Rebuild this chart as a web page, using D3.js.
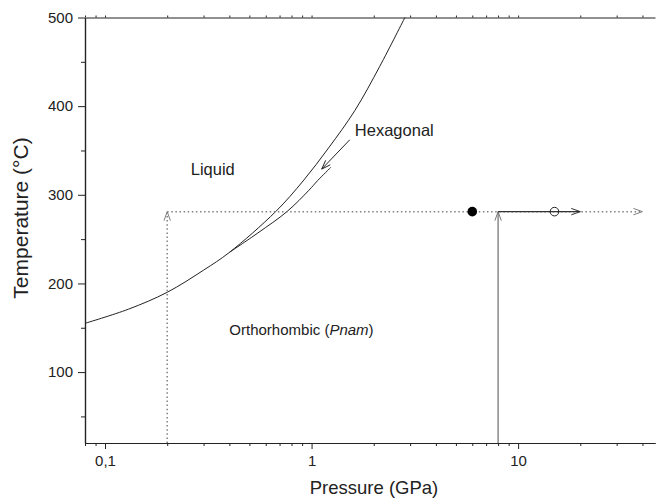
<!DOCTYPE html>
<html><head><meta charset="utf-8">
<script src="https://cdn.jsdelivr.net/npm/d3@7"></script>
<style>body{margin:0;background:#fff}svg{display:block;font-family:"Liberation Sans",Arial,sans-serif}</style>
</head><body><svg id="c" width="656" height="501"></svg>
<script>
// ---- data ----
const xDomain = [0.08, 46];
const yDomain = [20, 500];
const xMajorTicks = [0.1, 1, 10];
const xTickLabels = ["0,1", "1", "10"];
const xMinorTicks = [0.08,0.09,0.2,0.3,0.4,0.5,0.6,0.7,0.8,0.9,2,3,4,5,6,7,8,9,20,30,40];
const yMajorTicks = [100, 200, 300, 400, 500];
const yMinorTicks = [50, 150, 250, 350, 450];
// melting curve (Liquid / Orthorhombic)
const meltP = [0.08, 0.13, 0.2, 0.3, 0.4, 0.67, 0.91, 1.21, 1.62, 2.14, 2.83];
const meltT = [155, 171, 190, 215, 235, 281, 315.6, 353, 395, 445, 500];
// hexagonal branch
const hexP = [0.40, 0.55, 0.76, 0.97, 1.07, 1.24];
const hexT = [235, 257, 281, 305, 316, 331];
// arrow toward hexagonal branch
const hexArrowP = [1.53, 1.12];
const hexArrowT = [362, 329];
// experimental path
const pathT = 281;
const dottedStartP = 0.2, dottedEndP = 40;
const solidStartP = 8, solidEndP = 20;
const filledP = 6, openP = 15;

const labels = [
  {text: "Liquid", P: 0.26, T: 322},
  {text: "Hexagonal", P: 1.62, T: 366},
];

// ---- layout ----
const W = 656, H = 501;
const m = {l: 85, r: 1, t: 17.5, b: 58};
const svg = d3.select("#c");
const x = d3.scaleLog().domain(xDomain).range([m.l, W - m.r]);
const y = d3.scaleLinear().domain(yDomain).range([H - m.b, m.t]);
const ink = "#222";

// axes
const gx = svg.append("g").attr("transform", `translate(0,${H - m.b})`);
gx.call(d3.axisBottom(x).tickValues(xMajorTicks).tickFormat((d,i)=>xTickLabels[i]).tickSize(6).tickSizeOuter(0).tickPadding(6));
gx.append("g").call(d3.axisBottom(x).tickValues(xMinorTicks).tickFormat("").tickSize(3).tickSizeOuter(0));
const gxt = svg.append("g").attr("transform", `translate(0,${m.t})`);
gxt.call(d3.axisTop(x).tickValues(xMajorTicks.concat(xMinorTicks)).tickFormat("").tickSize(2).tickSizeOuter(0));
const gy = svg.append("g").attr("transform", `translate(${m.l},0)`);
gy.call(d3.axisLeft(y).tickValues(yMajorTicks).tickSize(7).tickSizeOuter(0).tickPadding(5));
gy.append("g").call(d3.axisLeft(y).tickValues(yMinorTicks).tickFormat("").tickSize(4).tickSizeOuter(0));
svg.selectAll(".domain").attr("stroke", ink).attr("stroke-width", 1.2);
svg.selectAll(".tick line").attr("stroke", ink).attr("stroke-width", 1);
svg.selectAll(".tick text").attr("fill", ink).attr("font-size", 15).attr("font-family", "Liberation Sans, Arial, sans-serif");

svg.append("text").attr("x", (m.l + W - m.r)/2 + 4).attr("y", 494).attr("text-anchor", "middle")
  .attr("font-size", 18.5).attr("fill", ink).text("Pressure (GPa)");
svg.append("text").attr("transform", `translate(28,218) rotate(-90)`).attr("text-anchor", "middle")
  .attr("font-size", 21).attr("fill", ink).text("Temperature (°C)");

const plot = svg.append("g");
const line = d3.line().x(d => x(d[0])).y(d => y(d[1])).curve(d3.curveCatmullRom.alpha(0.5));
plot.append("path").attr("d", line(meltP.map((p,i)=>[p, meltT[i]])))
  .attr("fill", "none").attr("stroke", ink).attr("stroke-width", 1);
plot.append("path").attr("d", line(hexP.map((p,i)=>[p, hexT[i]])))
  .attr("fill", "none").attr("stroke", ink).attr("stroke-width", 1);

function arrowHead(g, x0, y0, x1, y1, color, len=9, half=3.2, sw=1) {
  const a = Math.atan2(y1 - y0, x1 - x0);
  const p1 = [x1 - len*Math.cos(a) + half*Math.sin(a), y1 - len*Math.sin(a) - half*Math.cos(a)];
  const p2 = [x1 - len*Math.cos(a) - half*Math.sin(a), y1 - len*Math.sin(a) + half*Math.cos(a)];
  g.append("path").attr("d", `M${p1}L${x1},${y1}L${p2}`).attr("fill", "none")
    .attr("stroke", color).attr("stroke-width", sw);
}
function arrow(g, P0, T0, P1, T1, color, dash, sw=1) {
  const [x0,y0,x1,y1] = [x(P0), y(T0), x(P1), y(T1)];
  g.append("line").attr("x1", x0).attr("y1", y0).attr("x2", x1).attr("y2", y1)
    .attr("stroke", color).attr("stroke-width", sw).attr("stroke-dasharray", dash || null);
  arrowHead(g, x0, y0, x1, y1, color);
}
// hexagonal arrow
arrow(plot, hexArrowP[0], hexArrowT[0], hexArrowP[1], hexArrowT[1], ink, null, 1);

// dotted path: up at 0.2 GPa, then horizontal to 40 GPa
const grey = "#808080";
arrow(plot, dottedStartP, yDomain[0], dottedStartP, pathT, grey, "1.5,2.6", 1.5);
arrow(plot, dottedStartP, pathT, dottedEndP, pathT, grey, "1.5,2.6", 1.5);
// solid path at 8 GPa
arrow(plot, solidStartP, yDomain[0], solidStartP, pathT, "#777", null, 1.3);
arrow(plot, solidStartP, pathT, solidEndP, pathT, "#333", null, 1.3);

// points
plot.append("circle").attr("cx", x(filledP)).attr("cy", y(pathT)).attr("r", 4.8).attr("fill", "#000");
plot.append("circle").attr("cx", x(openP)).attr("cy", y(pathT)).attr("r", 4.3).attr("fill", "none").attr("stroke", "#222").attr("stroke-width", 1);

// labels
labels.forEach(l => plot.append("text").attr("x", x(l.P)).attr("y", y(l.T))
  .attr("font-size", 16.5).attr("fill", ink).text(l.text));
const orth = plot.append("text").attr("x", x(0.4)).attr("y", y(142)).attr("font-size", 15).attr("fill", ink);
orth.append("tspan").text("Orthorhombic (");
orth.append("tspan").attr("font-style", "italic").text("Pnam");
orth.append("tspan").text(")");
</script></body></html>
